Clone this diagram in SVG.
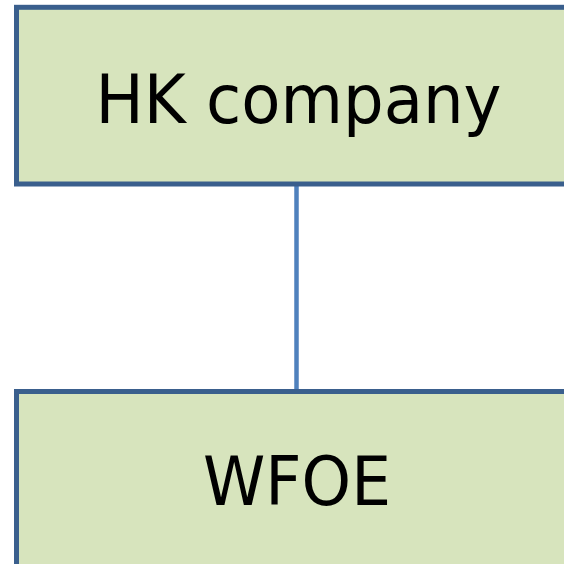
<svg xmlns="http://www.w3.org/2000/svg" width="564" height="564" viewBox="0 0 564 564">
<style>
.box{fill:#d7e4bd;stroke:#3a5f8d;stroke-width:5}
.lbl{font-family:"DejaVu Sans","Verdana",sans-serif;font-size:67px;fill:#000;text-anchor:middle}
.conn{stroke:#4f81bd;stroke-width:4.5;fill:none}
</style>
<rect width="564" height="564" fill="#fff"/>
<g id="connectors">
<line class="conn" x1="296.5" y1="184" x2="296.5" y2="391.5"/>
</g>
<g id="hk">
<rect class="box" x="16.5" y="7.3" width="600" height="176.7"/>
<text class="lbl" x="298.5" y="123" textLength="406" lengthAdjust="spacingAndGlyphs">HK company</text>
</g>
<g id="wfoe">
<rect class="box" x="16.5" y="391.5" width="600" height="200"/>
<text class="lbl" x="297" y="505" textLength="188" lengthAdjust="spacingAndGlyphs">WFOE</text>
</g>
</svg>
